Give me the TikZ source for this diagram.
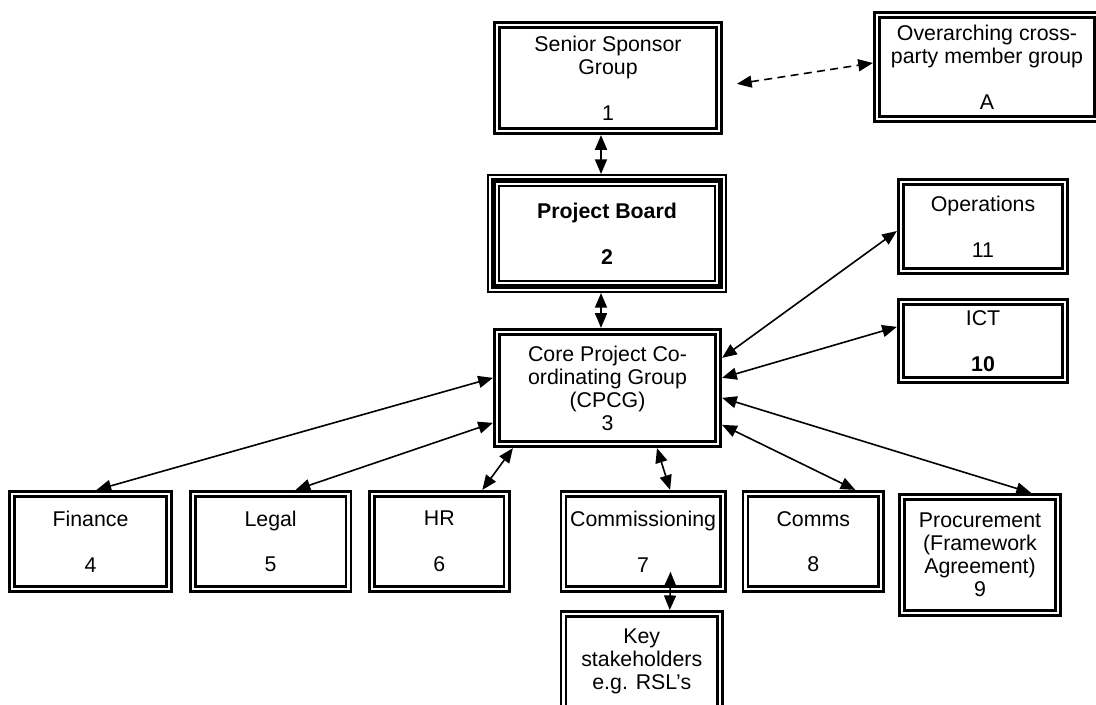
\documentclass[tikz,border=0pt]{standalone}
\usepackage{fontspec}
\setmainfont{Liberation Sans}
\usetikzlibrary{arrows.meta,positioning,calc}

\begin{document}
\begin{tikzpicture}[x=0.75pt,y=-0.75pt,
  grp/.style={draw,double,line width=2pt,double distance=1.8pt,outer sep=2.9pt,
    align=center,inner sep=0pt,font=\fontsize{16}{17.25}\selectfont,
    minimum width=118pt,minimum height=71.6pt},
  board/.style={align=center,inner sep=0pt,outer sep=5pt,
    font=\fontsize{16}{17.25}\selectfont\bfseries,
    preaction={draw,line width=10pt},postaction={draw=white,line width=7pt},
    postaction={draw,line width=4pt}},
  arr/.style={>={Triangle[length=11pt,width=9pt]},<->,line width=1.2pt},
  darr/.style={arr,dash pattern=on 6pt off 4pt}
]
  \useasboundingbox (0,0) rectangle (1096,705);
  \fill[white] (0,0) rectangle (1096,705);

  % top of the structure
  \node[grp,minimum width=166.9pt,minimum height=79.9pt] (ssg) at (608,78)
    {Senior Sponsor\\Group\\[17pt]1};
  \node[grp,minimum width=165.4pt,minimum height=78.4pt] (xparty) at (987,67)
    {Overarching cross-\\party member group\\[17pt]A};
  \node[board,minimum width=170pt,minimum height=79.25pt] (board) at (607,233.5)
    {Project Board\\[17pt]2};
  \node[grp,minimum width=166.1pt,minimum height=84.4pt] (cpcg) at (607.5,388)
    {Core Project Co-\\ordinating Group\\(CPCG)\\3};

  % side groups
  \node[grp,minimum width=123.4pt,minimum height=67.1pt] (ops) at (983,226.5)
    {Operations\\[17pt]11};
  \node[grp,minimum width=123.4pt,minimum height=58.9pt] (ict) at (983,341)
    {ICT\\[17pt]\textbf{10}};

  % workstreams
  \node[grp] (finance) at (90.5,541.5) {Finance\\[17pt]4};
  \node[grp,minimum width=116.6pt,right=12pt of finance] (legal) {Legal\\[17pt]5};
  \node[grp,minimum width=100.9pt,right=12pt of legal] (hr) {HR\\[17pt]6};
  \node[grp,minimum width=119.6pt,right=36.75pt of hr] (comm) {Commissioning\\[17pt]7};
  \node[grp,minimum width=101.6pt,right=11.25pt of comm] (comms) {Comms\\[17pt]8};
  \node[grp,minimum width=117.4pt,minimum height=87.4pt] (proc) at (980,555)
    {Procurement\\(Framework\\Agreement)\\9};
  \node[grp,minimum width=117.4pt,minimum height=70.9pt,below=12.75pt of comm,xshift=-1pt] (key)
    {Key\\stakeholders\\e.g. RSL’s};

  % links
  \draw[arr] ($(ssg.south)+(-7,0)$) -- ($(board.north)+(-6,0)$);
  \draw[arr] ($(board.south)+(-6,0)$) -- ($(cpcg.north)+(-6.5,0)$);
  \draw[darr,shorten <=10.5pt] ($(ssg.east)+(0,8)$) -- ($(xparty.west)+(0,-4)$);

  \draw[arr] ($(cpcg.north east)+(0,30)$) -- ($(ops.west)+(0,4.5)$);
  \draw[arr] ($(cpcg.north east)+(0,50)$) -- ($(ict.north west)+(0,29)$);
  \draw[arr] ($(cpcg.north east)+(0,70)$) -- ($(proc.north)+(51,0)$);
  \draw[arr] ($(cpcg.north east)+(0,97)$) -- ($(comms.north)+(42,0)$);
  \draw[arr] ($(cpcg.south)+(49.5,0)$) -- ($(comm.north)+(27,0)$);
  \draw[arr] ($(cpcg.south west)+(20,0)$) -- ($(hr.north)+(43,0)$);
  \draw[arr] ($(cpcg.north west)+(0,95)$) -- ($(legal.north)+(25,0)$);
  \draw[arr] ($(cpcg.north west)+(0,50)$) -- ($(finance.north)+(6,0)$);
  \draw[arr,shorten >=-16pt] ($(key.north)+(28,0)$) -- ($(comm.south)+(27,0)$);
\end{tikzpicture}
\end{document}
